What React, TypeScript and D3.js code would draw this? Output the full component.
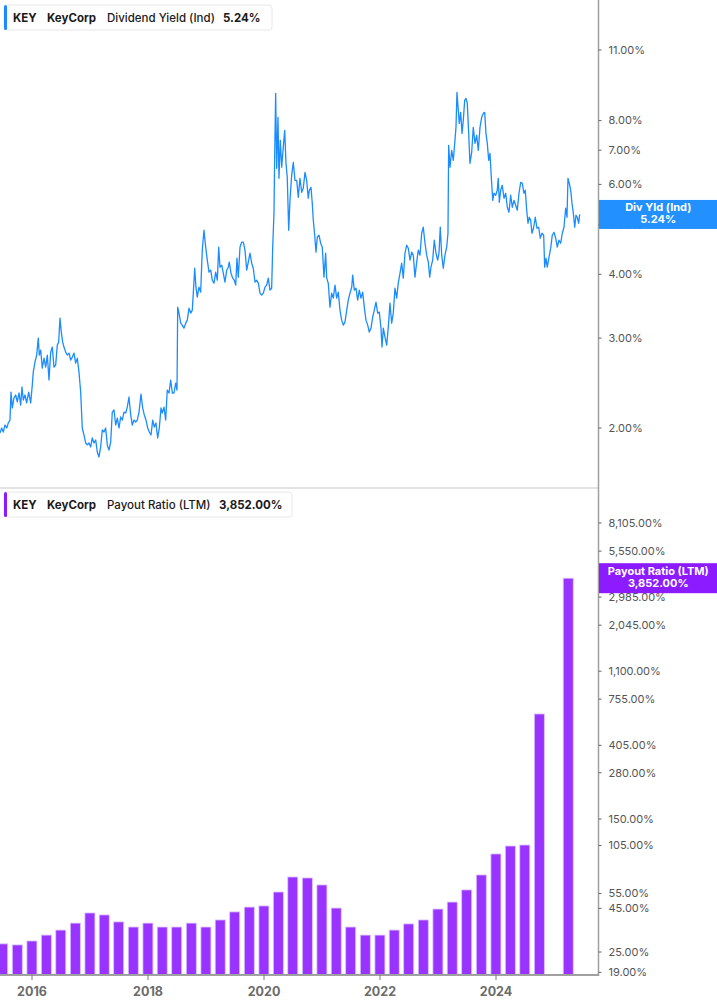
import React from "react";
import * as d3 from "d3";

// Dividend yield (Ind), % — [decimal year, value]
const dividendYield: [number, number][] = [
  [2015.448,1.955],[2015.477,2.0],[2015.505,1.964],[2015.534,2.027],[2015.564,2.0],[2015.591,2.046],[2015.62,2.073],[2015.638,2.352],
  [2015.66,2.189],[2015.689,2.289],[2015.719,2.321],[2015.746,2.249],[2015.776,2.342],[2015.805,2.218],[2015.827,2.406],[2015.85,2.269],
  [2015.879,2.321],[2015.908,2.239],[2015.943,2.352],[2015.977,2.239],[2016.005,2.427],[2016.022,2.574],[2016.051,2.693],[2016.081,2.779],
  [2016.108,3.0],[2016.126,2.779],[2016.15,2.842],[2016.177,2.621],[2016.207,2.741],[2016.236,2.632],[2016.264,2.779],[2016.293,2.483],
  [2016.322,2.816],[2016.35,2.881],[2016.379,2.632],[2016.408,2.656],[2016.436,2.907],[2016.46,2.946],[2016.482,3.282],[2016.505,3.082],
  [2016.529,2.946],[2016.551,2.881],[2016.581,2.816],[2016.608,2.779],[2016.638,2.804],[2016.667,2.717],[2016.695,2.754],[2016.724,2.804],
  [2016.753,2.68],[2016.781,2.741],[2016.81,2.574],[2016.839,2.352],[2016.867,2.0],[2016.896,1.938],[2016.926,1.869],[2016.953,1.853],
  [2016.982,1.869],[2017.012,1.836],[2017.039,1.912],[2017.069,1.869],[2017.098,1.895],[2017.126,1.795],[2017.155,1.755],[2017.184,1.836],
  [2017.212,1.982],[2017.241,1.964],[2017.27,2.0],[2017.298,1.853],[2017.327,1.811],[2017.357,1.878],[2017.384,2.149],[2017.414,2.169],
  [2017.443,2.027],[2017.471,2.092],[2017.5,2.0],[2017.529,2.102],[2017.557,2.073],[2017.586,2.149],[2017.615,2.14],[2017.643,2.198],
  [2017.672,2.3],[2017.702,2.121],[2017.729,2.027],[2017.758,2.073],[2017.788,2.055],[2017.815,2.073],[2017.845,2.149],[2017.879,2.331],
  [2017.908,2.189],[2017.936,2.121],[2017.965,2.073],[2017.995,2.0],[2018.022,1.964],[2018.052,1.938],[2018.081,2.073],[2018.108,2.009],
  [2018.137,2.046],[2018.167,1.912],[2018.195,2.0],[2018.224,2.189],[2018.246,2.14],[2018.276,2.198],[2018.305,2.073],[2018.332,2.373],
  [2018.362,2.342],[2018.391,2.483],[2018.419,2.342],[2018.448,2.342],[2018.477,2.449],[2018.5,2.373],[2018.512,3.45],[2018.534,3.357],
  [2018.564,3.209],[2018.591,3.181],[2018.62,3.138],[2018.65,3.209],[2018.677,3.253],[2018.707,3.434],[2018.736,3.357],[2018.764,3.403],
  [2018.781,3.674],[2018.805,4.111],[2018.827,3.774],[2018.85,3.608],[2018.879,3.774],[2018.908,3.691],[2018.936,4.459],[2018.965,4.879],
  [2018.995,4.52],[2019.022,4.263],[2019.052,4.038],[2019.081,4.075],[2019.108,3.895],[2019.138,3.843],[2019.167,4.038],[2019.195,3.895],
  [2019.219,4.52],[2019.241,4.13],[2019.271,4.168],[2019.298,4.02],[2019.327,3.861],[2019.357,4.075],[2019.384,4.13],[2019.401,4.224],
  [2019.431,4.02],[2019.46,3.931],[2019.488,3.895],[2019.512,3.809],[2019.534,4.301],[2019.557,3.949],[2019.586,4.52],[2019.615,4.623],
  [2019.643,4.623],[2019.672,4.459],[2019.702,4.075],[2019.729,4.224],[2019.758,4.4],[2019.788,4.205],[2019.815,4.111],[2019.845,3.861],
  [2019.874,3.895],[2019.902,3.843],[2019.931,3.674],[2019.96,3.641],[2019.988,3.674],[2020.017,3.774],[2020.046,3.809],[2020.074,3.931],
  [2020.103,3.724],[2020.132,3.757],[2020.15,4.52],[2020.172,5.268],[2020.184,6.78],[2020.201,9.044],[2020.219,6.452],[2020.241,8.118],
  [2020.258,6.167],[2020.281,7.319],[2020.305,6.482],[2020.332,7.092],[2020.357,7.656],[2020.379,6.599],[2020.401,6.195],[2020.426,4.879],
  [2020.448,5.585],[2020.477,6.251],[2020.505,6.629],[2020.534,6.112],[2020.564,6.112],[2020.591,5.661],[2020.62,6.167],[2020.65,5.791],
  [2020.677,5.896],[2020.707,6.336],[2020.736,6.112],[2020.763,5.636],[2020.781,5.843],[2020.81,5.923],[2020.832,5.51],[2020.85,5.104],
  [2020.874,4.771],[2020.896,4.42],[2020.919,4.728],[2020.948,4.771],[2020.977,4.602],[2021.005,4.52],[2021.034,3.949],[2021.063,4.4],
  [2021.081,3.931],[2021.108,3.843],[2021.137,3.45],[2021.167,3.674],[2021.195,3.592],[2021.224,3.809],[2021.253,3.592],[2021.281,3.691],
  [2021.31,3.403],[2021.339,3.253],[2021.367,3.181],[2021.396,3.224],[2021.426,3.403],[2021.453,3.56],[2021.483,3.674],[2021.512,3.774],
  [2021.529,3.984],[2021.557,3.724],[2021.586,3.757],[2021.615,3.56],[2021.643,3.724],[2021.672,3.592],[2021.701,3.691],[2021.729,3.45],
  [2021.758,3.253],[2021.788,3.181],[2021.815,3.082],[2021.845,3.138],[2021.874,3.297],[2021.901,3.403],[2021.931,3.528],[2021.96,3.357],
  [2021.988,3.373],[2022.017,3.138],[2022.034,2.881],[2022.057,3.138],[2022.086,3.013],[2022.115,2.907],[2022.143,3.152],[2022.172,3.512],
  [2022.201,3.209],[2022.229,3.357],[2022.258,3.757],[2022.288,3.592],[2022.315,3.843],[2022.345,4.02],[2022.374,4.205],[2022.401,3.931],
  [2022.431,4.4],[2022.46,4.561],[2022.488,4.5],[2022.517,4.263],[2022.546,4.42],[2022.574,4.36],[2022.603,3.949],[2022.632,4.224],
  [2022.66,4.459],[2022.689,4.36],[2022.719,4.814],[2022.746,4.946],[2022.776,4.602],[2022.805,4.36],[2022.833,4.224],[2022.857,3.949],
  [2022.879,4.13],[2022.908,4.263],[2022.936,4.664],[2022.965,4.4],[2022.994,4.263],[2023.017,4.4],[2023.039,4.946],[2023.064,4.36],
  [2023.091,4.111],[2023.12,4.36],[2023.15,4.52],[2023.172,4.814],[2023.184,7.156],[2023.207,6.482],[2023.236,6.997],[2023.264,6.689],
  [2023.288,7.221],[2023.31,7.76],[2023.327,9.085],[2023.35,8.378],[2023.367,7.901],[2023.391,8.303],[2023.414,7.553],[2023.436,8.009],
  [2023.46,8.764],[2023.482,8.843],[2023.505,8.646],[2023.529,7.553],[2023.551,6.599],[2023.581,6.934],[2023.608,7.76],[2023.638,7.221],
  [2023.667,7.485],[2023.695,6.997],[2023.724,7.76],[2023.753,8.118],[2023.781,8.265],[2023.805,8.303],[2023.827,7.553],[2023.85,7.221],
  [2023.874,6.689],[2023.896,6.903],[2023.919,6.195],[2023.943,5.585],[2023.965,5.765],[2023.995,5.713],[2024.022,5.843],[2024.039,6.167],
  [2024.057,5.535],[2024.081,5.843],[2024.108,5.976],[2024.138,5.636],[2024.167,5.765],[2024.195,5.412],[2024.224,5.292],[2024.253,5.713],
  [2024.281,5.412],[2024.31,5.585],[2024.339,5.461],[2024.367,5.34],[2024.396,5.765],[2024.426,6.057],[2024.453,6.03],[2024.482,5.765],
  [2024.505,5.843],[2024.529,5.34],[2024.552,5.036],[2024.574,5.174],[2024.598,5.104],[2024.62,4.814],[2024.65,4.946],[2024.677,5.174],
  [2024.707,4.923],[2024.736,4.946],[2024.763,4.707],[2024.793,4.814],[2024.822,4.771],[2024.839,4.13],[2024.862,4.301],[2024.884,4.13],
  [2024.914,4.321],[2024.943,4.5],[2024.97,4.771],[2025.0,4.836],[2025.029,4.707],[2025.057,4.52],[2025.086,4.664],[2025.115,4.602],
  [2025.143,4.814],[2025.172,4.946],[2025.201,5.388],[2025.224,5.174],[2025.241,6.167],[2025.264,6.03],[2025.288,5.843],[2025.31,5.51],
  [2025.332,5.292],[2025.357,4.946],[2025.379,5.221],[2025.401,5.174],[2025.426,5.036],[2025.443,5.24],
];

// Payout ratio (LTM), % — quarter end dates and values (null = not shown)
const payoutQuarters: string[] = [
  "2015-06-30","2015-09-30","2015-12-31","2016-03-31","2016-06-30","2016-09-30","2016-12-31","2017-03-31",
  "2017-06-30","2017-09-30","2017-12-31","2018-03-31","2018-06-30","2018-09-30","2018-12-31","2019-03-31",
  "2019-06-30","2019-09-30","2019-12-31","2020-03-31","2020-06-30","2020-09-30","2020-12-31","2021-03-31",
  "2021-06-30","2021-09-30","2021-12-31","2022-03-31","2022-06-30","2022-09-30","2022-12-31","2023-03-31",
  "2023-06-30","2023-09-30","2023-12-31","2024-03-31","2024-06-30","2024-09-30","2024-12-31","2025-03-31",
];
const payoutValues: (number | null)[] = [
  27.9, 27.5, 29.0, 31.4, 33.6, 36.9, 42.3, 41.2,
  37.5, 35.0, 36.9, 35.0, 35.0, 36.9, 35.0, 38.5,
  42.9, 45.8, 46.5, 56.1, 68.7, 67.8, 61.7, 45.2,
  35.0, 31.4, 31.4, 33.6, 36.5, 38.5, 44.6, 49.0,
  57.7, 70.6, 93.7, 104.3, 105.7, 618, null, 3852,
];

const yieldTicks: number[] = [11, 8, 7, 6, 5, 4, 3, 2];
const payoutTicks: number[] = [8105, 5550, 2985, 2045, 1100, 755, 405, 280, 150, 105, 55, 45, 25, 19];
const yearTicks: number[] = [2016, 2018, 2020, 2022, 2024];

const lastYield = 5.24;
const lastPayout = 3852;

const FONT = "Inter, 'Noto Sans', sans-serif";

function decYear(s: string): number {
  const d = new Date(s + "T12:00:00Z");
  const y = d.getUTCFullYear();
  const start = Date.UTC(y, 0, 1);
  const end = Date.UTC(y + 1, 0, 1);
  return y + (d.getTime() - start) / (end - start);
}

export default function App() {
  const W = 717, H = 1005;
  const axisX = 598.5;
  const x = d3.scaleLinear().domain([2016, 2024]).range([32, 496]);
  const yTop = d3.scaleLog().domain([2, 11]).range([428, 50]);
  const yBot = d3.scaleLog().domain([25, 8105]).range([952, 523]);
  const baseY = 975;

  const line = d3
    .line<[number, number]>()
    .x((d) => x(d[0]))
    .y((d) => yTop(d[1]));

  const fmtPct = d3.format(",.2f");
  const barW = 10;

  const topBoxY = yTop(lastYield);
  const botBoxY = yBot(lastPayout);

  return (
    <svg
      width={W}
      height={H}
      style={{ position: "absolute", left: 0, top: 0, background: "#fff" }}
      fontFamily={FONT}
    >
      <defs>
        <clipPath id="clipTop">
          <rect x={0} y={0} width={axisX} height={487} />
        </clipPath>
        <clipPath id="clipBot">
          <rect x={0} y={490} width={axisX} height={baseY - 490} />
        </clipPath>
      </defs>

      {/* line */}
      <g clipPath="url(#clipTop)">
        <path d={line(dividendYield) || ""} fill="none" stroke="#1a8cff" strokeWidth={1.3} strokeLinejoin="round" />
      </g>

      {/* separator */}
      <line x1={0} x2={axisX} y1={488} y2={488} stroke="#e2e2e2" strokeWidth={2} />

      {/* bars */}
      <g clipPath="url(#clipBot)">
        {payoutQuarters.map((q, i) => {
          const v = payoutValues[i];
          if (v == null) return null;
          const cx = x(decYear(q));
          const yy = yBot(v);
          return (
            <rect
              key={q}
              x={cx - barW / 2}
              y={yy}
              width={barW}
              height={baseY - yy}
              fill="#9933ff"
              stroke="#dcc2ff"
              strokeWidth={0.8}
            />
          );
        })}
      </g>

      {/* axes */}
      <line x1={axisX} x2={axisX} y1={0} y2={baseY + 1} stroke="#a0a0a0" strokeWidth={1.5} />
      <line x1={0} x2={axisX} y1={baseY} y2={baseY} stroke="#a0a0a0" strokeWidth={2} />

      {yieldTicks.map((t) => (
        <g key={"yt" + t} transform={`translate(${axisX},${yTop(t)})`}>
          <line x1={0} x2={3} stroke="#666" strokeWidth={1} />
          <text x={10} dy="0.35em" fontSize={11} fill="#555">
            {fmtPct(t)}%
          </text>
        </g>
      ))}
      {payoutTicks.map((t) => (
        <g key={"pt" + t} transform={`translate(${axisX},${yBot(t)})`}>
          <line x1={0} x2={3} stroke="#666" strokeWidth={1} />
          <text x={10} dy="0.35em" fontSize={11} fill="#555">
            {fmtPct(t)}%
          </text>
        </g>
      ))}

      {yearTicks.map((yr) => (
        <g key={"yr" + yr} transform={`translate(${x(yr)},${baseY})`}>
          <line y1={0} y2={5} stroke="#777" strokeWidth={1} />
          <text y={17} dy="0.35em" textAnchor="middle" fontSize={12.5} fontWeight={700} fill="#6b6b6b">
            {yr}
          </text>
        </g>
      ))}

      {/* value boxes */}
      <g transform={`translate(${axisX + 0.5},${topBoxY - 14.5})`}>
        <rect width={W - axisX} height={29} fill="#2290ff" />
        <text x={(W - axisX) / 2} y={11} textAnchor="middle" fontSize={11} fontWeight={700} fill="#fff">
          Div Yld (Ind)
        </text>
        <text x={(W - axisX) / 2} y={23} textAnchor="middle" fontSize={11} fontWeight={700} fill="#fff">
          {fmtPct(lastYield)}%
        </text>
      </g>
      <g transform={`translate(${axisX + 0.5},${botBoxY - 15})`}>
        <rect width={W - axisX} height={30} fill="#8c1cff" />
        <text x={(W - axisX) / 2} y={12} textAnchor="middle" fontSize={11} fontWeight={700} fill="#fff">
          Payout Ratio (LTM)
        </text>
        <text x={(W - axisX) / 2} y={24} textAnchor="middle" fontSize={11} fontWeight={700} fill="#fff">
          {fmtPct(lastPayout)}%
        </text>
      </g>

      {/* headers */}
      <g transform="translate(4,5)">
        <rect width={268} height={25} rx={3} fill="#fff" stroke="#e8e8e8" />
        <rect width={3} height={25} rx={1.5} fill="#1a8cff" />
        <text y={12.5} dy="0.35em" fontSize={11.5} fill="#1a1a1a">
          <tspan x={9} fontWeight={700}>KEY</tspan>
          <tspan x={43} fontWeight={700}>KeyCorp</tspan>
          <tspan x={103} fontWeight={500}>Dividend Yield (Ind)</tspan>
          <tspan x={219} fontWeight={700}>{fmtPct(lastYield)}%</tspan>
        </text>
      </g>
      <g transform="translate(4,492)">
        <rect width={288} height={25} rx={3} fill="#fff" stroke="#e8e8e8" />
        <rect width={3} height={25} rx={1.5} fill="#8c1cff" />
        <text y={12.5} dy="0.35em" fontSize={11.5} fill="#1a1a1a">
          <tspan x={9} fontWeight={700}>KEY</tspan>
          <tspan x={43} fontWeight={700}>KeyCorp</tspan>
          <tspan x={103} fontWeight={500}>Payout Ratio (LTM)</tspan>
          <tspan x={215} fontWeight={700}>{fmtPct(lastPayout)}%</tspan>
        </text>
      </g>
    </svg>
  );
}
